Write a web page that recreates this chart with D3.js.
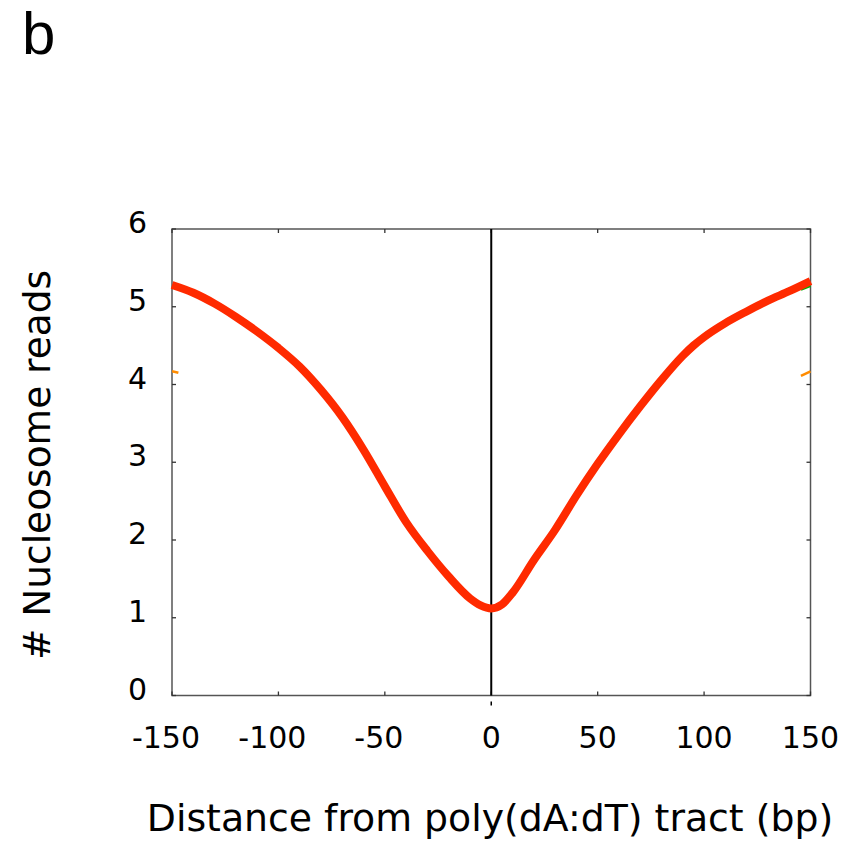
<!DOCTYPE html>
<html><head><meta charset="utf-8">
<script src="https://cdn.jsdelivr.net/npm/d3@7"></script>
<style>body{margin:0;background:#fff}svg{display:block}</style>
</head><body>
<script>
// Data
const positions = [-150,-140,-130,-120,-110,-100,-90,-80,-70,-60,-50,-40,-30,-20,-10,-5,0,5,10,20,30,40,50,60,70,80,90,95,100,110,120,130,140,150];
const reads =     [5.28,5.18,5.04,4.87,4.68,4.47,4.23,3.93,3.58,3.16,2.69,2.23,1.86,1.53,1.25,1.16,1.12,1.17,1.32,1.74,2.13,2.57,2.98,3.36,3.72,4.06,4.37,4.50,4.61,4.79,4.94,5.08,5.20,5.33];
const orangeLeftX = [-150,-147], orangeLeftY = [4.17,4.15];
const orangeRightX = [145.5,150], orangeRightY = [4.11,4.17];
const greenRightX = [145.5,150], greenRightY = [5.22,5.27];
const xTicks = [-150,-100,-50,0,50,100,150];
const yTicks = [0,1,2,3,4,5,6];
const xLabel = "Distance from poly(dA:dT) tract (bp)";
const yLabel = "# Nucleosome reads";
const panel = "b";

const W=855,H=841;
const svg=d3.select("body").append("svg").attr("width",W).attr("height",H);
const L=172,R=810.5,T=229,B=695.5;
const x=d3.scaleLinear().domain([-150,150]).range([L,R]);
const y=d3.scaleLinear().domain([0,6]).range([B,T]);
const font="'DejaVu Sans', Verdana, sans-serif";

svg.append("text").attr("x",22).attr("y",54).text(panel)
  .attr("font-family","'Liberation Sans', Arial, sans-serif").attr("font-size",60).attr("fill","#000");

svg.append("clipPath").attr("id","c").append("rect").attr("x",L).attr("y",T-6).attr("width",R-L+2).attr("height",B-T+6);

// frame
svg.append("rect").attr("x",L).attr("y",T).attr("width",R-L).attr("height",B-T)
  .attr("fill","none").attr("stroke","#555").attr("stroke-width",1.5);

// ticks (mirrored, inward)
const tl=4;
xTicks.forEach(v=>{
  svg.append("line").attr("x1",x(v)).attr("x2",x(v)).attr("y1",B).attr("y2",B-tl).attr("stroke","#333").attr("stroke-width",1.3);
  svg.append("line").attr("x1",x(v)).attr("x2",x(v)).attr("y1",T).attr("y2",T+tl).attr("stroke","#333").attr("stroke-width",1.3);
  svg.append("text").attr("x",x(v)-(v<0?6:0)).attr("y",B+52).attr("text-anchor","middle")
    .attr("font-family",font).attr("font-size",30).text(v);
});
yTicks.forEach(v=>{
  svg.append("line").attr("x1",L).attr("x2",L+tl).attr("y1",y(v)).attr("y2",y(v)).attr("stroke","#333").attr("stroke-width",1.3);
  svg.append("line").attr("x1",R).attr("x2",R-tl).attr("y1",y(v)).attr("y2",y(v)).attr("stroke","#333").attr("stroke-width",1.3);
  svg.append("text").attr("x",147).attr("y",y(v)+4).attr("text-anchor","end")
    .attr("font-family",font).attr("font-size",30).text(v);
});

// zero line
svg.append("line").attr("x1",x(0)).attr("x2",x(0)).attr("y1",T).attr("y2",B).attr("stroke","#000").attr("stroke-width",2);
svg.append("line").attr("x1",x(0)).attr("x2",x(0)).attr("y1",B+6).attr("y2",B+10).attr("stroke","#000").attr("stroke-width",1.5);

const line=d3.line().x(d=>x(d[0])).y(d=>y(d[1])).curve(d3.curveMonotoneX);
const g=svg.append("g").attr("clip-path","url(#c)");
g.append("path").datum(d3.zip(orangeLeftX,orangeLeftY)).attr("d",line).attr("fill","none").attr("stroke","#ff8c00").attr("stroke-width",2.5);
g.append("path").datum(d3.zip(orangeRightX,orangeRightY)).attr("d",line).attr("fill","none").attr("stroke","#ff8c00").attr("stroke-width",2.5);
g.append("path").datum(d3.zip(greenRightX,greenRightY)).attr("d",line).attr("fill","none").attr("stroke","#00b000").attr("stroke-width",2.5);
svg.append("path").datum(d3.zip(positions,reads)).attr("d",line).attr("fill","none")
  .attr("stroke","#ff2a00").attr("stroke-width",8).attr("stroke-linejoin","round");

svg.append("text").attr("x",490).attr("y",831).attr("text-anchor","middle")
  .attr("font-family",font).attr("font-size",37.8).text(xLabel);
svg.append("text").attr("transform",`translate(50,465) rotate(-90)`).attr("text-anchor","middle")
  .attr("font-family",font).attr("font-size",37.5).text(yLabel);
</script>
</body></html>
